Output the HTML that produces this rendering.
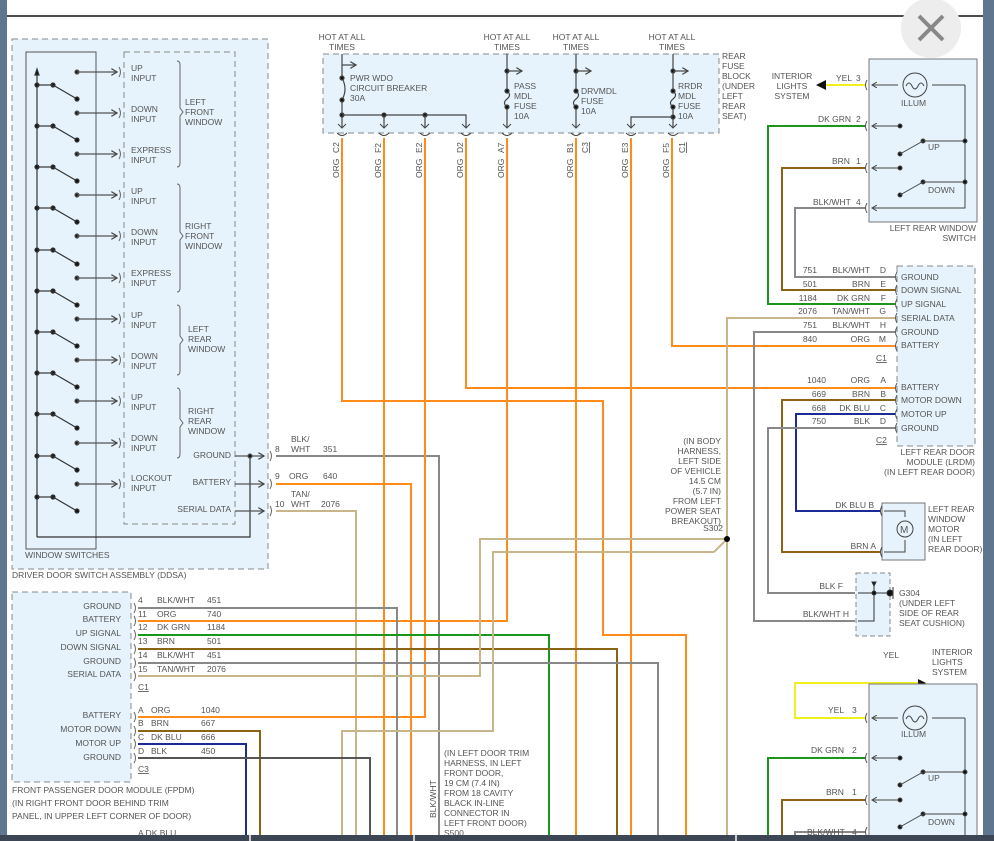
<!DOCTYPE html>
<html><head><meta charset="utf-8"><style>
html,body{margin:0;padding:0;background:#fff;}
svg{display:block;font-family:"Liberation Sans",sans-serif;}
text{font-size:8.5px;fill:#555;}
</style></head><body>
<svg width="994" height="841" viewBox="0 0 994 841" xmlns="http://www.w3.org/2000/svg">
<defs>
<marker id="ar" markerWidth="6" markerHeight="6" refX="5" refY="3" orient="auto"><path d="M0,0 L5,3 L0,6" fill="none" stroke="#444" stroke-width="1"/></marker>
</defs>
<rect width="994" height="841" fill="#fff"/>
<rect x="0" y="0" width="7" height="841" fill="#5f7690"/>
<rect x="983" y="0" width="11" height="841" fill="#5f7690"/>
<line x1="7" y1="16" x2="983" y2="16" stroke="#111" stroke-width="1.5"/>

<!-- DDSA -->
<rect x="12" y="39" width="256" height="530" fill="#e6f3fc" stroke="#888" stroke-dasharray="6,4"/>
<rect x="26" y="52" width="70" height="497" fill="none" stroke="#555"/>
<rect x="124" y="52" width="111" height="472" fill="none" stroke="#888" stroke-dasharray="6,4"/>
<text x="25" y="558">WINDOW SWITCHES</text>
<text x="12" y="578">DRIVER DOOR SWITCH ASSEMBLY (DDSA)</text>
<g stroke="#333" stroke-width="1.2" fill="#111">
<line x1="37" y1="70" x2="37" y2="537"/>
<polyline points="37,537 250,537 250,456" fill="none"/>
<path d="M35,75 L37,69 L39,75Z"/>
</g>
<g stroke="#333" stroke-width="1.2" fill="#111">
<circle cx="37" cy="85" r="2"/><circle cx="53" cy="85" r="2"/><line x1="37" y1="85" x2="53" y2="85"/><line x1="53" y1="85" x2="77" y2="99"/><circle cx="77" cy="99" r="2"/>
<circle cx="37" cy="126" r="2"/><circle cx="53" cy="126" r="2"/><line x1="37" y1="126" x2="53" y2="126"/><line x1="53" y1="126" x2="77" y2="140"/><circle cx="77" cy="140" r="2"/>
<circle cx="37" cy="167" r="2"/><circle cx="53" cy="167" r="2"/><line x1="37" y1="167" x2="53" y2="167"/><line x1="53" y1="167" x2="77" y2="181"/><circle cx="77" cy="181" r="2"/>
<circle cx="37" cy="208" r="2"/><circle cx="53" cy="208" r="2"/><line x1="37" y1="208" x2="53" y2="208"/><line x1="53" y1="208" x2="77" y2="222"/><circle cx="77" cy="222" r="2"/>
<circle cx="37" cy="250" r="2"/><circle cx="53" cy="250" r="2"/><line x1="37" y1="250" x2="53" y2="250"/><line x1="53" y1="250" x2="77" y2="264"/><circle cx="77" cy="264" r="2"/>
<circle cx="37" cy="291" r="2"/><circle cx="53" cy="291" r="2"/><line x1="37" y1="291" x2="53" y2="291"/><line x1="53" y1="291" x2="77" y2="305"/><circle cx="77" cy="305" r="2"/>
<circle cx="37" cy="332" r="2"/><circle cx="53" cy="332" r="2"/><line x1="37" y1="332" x2="53" y2="332"/><line x1="53" y1="332" x2="77" y2="346"/><circle cx="77" cy="346" r="2"/>
<circle cx="37" cy="373" r="2"/><circle cx="53" cy="373" r="2"/><line x1="37" y1="373" x2="53" y2="373"/><line x1="53" y1="373" x2="77" y2="387"/><circle cx="77" cy="387" r="2"/>
<circle cx="37" cy="414" r="2"/><circle cx="53" cy="414" r="2"/><line x1="37" y1="414" x2="53" y2="414"/><line x1="53" y1="414" x2="77" y2="428"/><circle cx="77" cy="428" r="2"/>
<circle cx="37" cy="456" r="2"/><circle cx="53" cy="456" r="2"/><line x1="37" y1="456" x2="53" y2="456"/><line x1="53" y1="456" x2="77" y2="470"/><circle cx="77" cy="470" r="2"/>
<circle cx="37" cy="497" r="2"/><circle cx="53" cy="497" r="2"/><line x1="37" y1="497" x2="53" y2="497"/><line x1="53" y1="497" x2="77" y2="511"/><circle cx="77" cy="511" r="2"/>
</g>
<g stroke="#555" stroke-width="1.2" fill="#111">
<circle cx="77" cy="72" r="2"/><line x1="77" y1="72" x2="117" y2="72" marker-end="url(#ar)"/>
<circle cx="77" cy="113" r="2"/><line x1="77" y1="113" x2="117" y2="113" marker-end="url(#ar)"/>
<circle cx="77" cy="154" r="2"/><line x1="77" y1="154" x2="117" y2="154" marker-end="url(#ar)"/>
<circle cx="77" cy="195" r="2"/><line x1="77" y1="195" x2="117" y2="195" marker-end="url(#ar)"/>
<circle cx="77" cy="236" r="2"/><line x1="77" y1="236" x2="117" y2="236" marker-end="url(#ar)"/>
<circle cx="77" cy="278" r="2"/><line x1="77" y1="278" x2="117" y2="278" marker-end="url(#ar)"/>
<circle cx="77" cy="319" r="2"/><line x1="77" y1="319" x2="117" y2="319" marker-end="url(#ar)"/>
<circle cx="77" cy="360" r="2"/><line x1="77" y1="360" x2="117" y2="360" marker-end="url(#ar)"/>
<circle cx="77" cy="401" r="2"/><line x1="77" y1="401" x2="117" y2="401" marker-end="url(#ar)"/>
<circle cx="77" cy="443" r="2"/><line x1="77" y1="443" x2="117" y2="443" marker-end="url(#ar)"/>
<circle cx="77" cy="484" r="2"/><line x1="77" y1="484" x2="117" y2="484" marker-end="url(#ar)"/>
</g>
<g fill="none" stroke="#666" stroke-width="1">
<path d="M119,67 q3,5 0,10"/><path d="M119,108 q3,5 0,10"/><path d="M119,149 q3,5 0,10"/><path d="M119,190 q3,5 0,10"/><path d="M119,231 q3,5 0,10"/><path d="M119,273 q3,5 0,10"/><path d="M119,314 q3,5 0,10"/><path d="M119,355 q3,5 0,10"/><path d="M119,396 q3,5 0,10"/><path d="M119,438 q3,5 0,10"/><path d="M119,479 q3,5 0,10"/>
<path d="M177,61 q3,0 3,4 L180,108 l3,4 l-3,4 L180,163 q0,4 -3,4"/>
<path d="M177,184 q3,0 3,4 L180,232 l3,4 l-3,4 L180,288 q0,4 -3,4"/>
<path d="M177,305 q3,0 3,4 L180,336 l3,4 l-3,4 L180,371 q0,4 -3,4"/>
<path d="M177,388 q3,0 3,4 L180,419 l3,4 l-3,4 L180,454 q0,4 -3,4"/>
</g>
<g>
<text x="131" y="71">UP</text><text x="131" y="81">INPUT</text>
<text x="131" y="112">DOWN</text><text x="131" y="122">INPUT</text>
<text x="131" y="153">EXPRESS</text><text x="131" y="163">INPUT</text>
<text x="131" y="194">UP</text><text x="131" y="204">INPUT</text>
<text x="131" y="235">DOWN</text><text x="131" y="245">INPUT</text>
<text x="131" y="276">EXPRESS</text><text x="131" y="286">INPUT</text>
<text x="131" y="318">UP</text><text x="131" y="328">INPUT</text>
<text x="131" y="359">DOWN</text><text x="131" y="369">INPUT</text>
<text x="131" y="400">UP</text><text x="131" y="410">INPUT</text>
<text x="131" y="441">DOWN</text><text x="131" y="451">INPUT</text>
<text x="131" y="481">LOCKOUT</text><text x="131" y="491">INPUT</text>
<text x="185" y="105">LEFT</text><text x="185" y="115">FRONT</text><text x="185" y="125">WINDOW</text>
<text x="185" y="229">RIGHT</text><text x="185" y="239">FRONT</text><text x="185" y="249">WINDOW</text>
<text x="188" y="332">LEFT</text><text x="188" y="342">REAR</text><text x="188" y="352">WINDOW</text>
<text x="188" y="414">RIGHT</text><text x="188" y="424">REAR</text><text x="188" y="434">WINDOW</text>
<text x="231" y="458" text-anchor="end">GROUND</text>
<text x="231" y="485" text-anchor="end">BATTERY</text>
<text x="231" y="512" text-anchor="end">SERIAL DATA</text>
</g>
<g stroke="#555" stroke-width="1.2" fill="#111">
<line x1="235" y1="456" x2="264" y2="456" marker-end="url(#ar)"/><circle cx="250" cy="456" r="2"/>
<line x1="235" y1="484" x2="264" y2="484" marker-end="url(#ar)"/>
<line x1="235" y1="511" x2="264" y2="511" marker-end="url(#ar)"/>
</g>
<g fill="none" stroke="#666"><path d="M270,451 q3,5 0,10"/><path d="M270,479 q3,5 0,10"/><path d="M270,506 q3,5 0,10"/></g>
<text x="275" y="452">8</text><text x="291" y="442">BLK/</text><text x="291" y="452">WHT</text><text x="323" y="452">351</text>
<text x="275" y="479">9</text><text x="289" y="479">ORG</text><text x="323" y="479">640</text>
<text x="275" y="507">10</text><text x="291" y="497">TAN/</text><text x="291" y="507">WHT</text><text x="321" y="507">2076</text>

<!-- FPDM -->
<rect x="12" y="592" width="119" height="190" fill="#e6f3fc" stroke="#888" stroke-dasharray="6,4"/>
<g text-anchor="end">
<text x="121" y="609">GROUND</text><text x="121" y="622">BATTERY</text><text x="121" y="636">UP SIGNAL</text><text x="121" y="650">DOWN SIGNAL</text><text x="121" y="664">GROUND</text><text x="121" y="677">SERIAL DATA</text>
<text x="121" y="718">BATTERY</text><text x="121" y="732">MOTOR DOWN</text><text x="121" y="746">MOTOR UP</text><text x="121" y="760">GROUND</text>
</g>
<text x="12" y="793">FRONT PASSENGER DOOR MODULE (FPDM)</text>
<text x="12" y="806">(IN RIGHT FRONT DOOR BEHIND TRIM</text>
<text x="12" y="819">PANEL, IN UPPER LEFT CORNER OF DOOR)</text>
<g fill="none" stroke="#666"><path d="M134,603 q3,5 0,10"/><path d="M134,616 q3,5 0,10"/><path d="M134,630 q3,5 0,10"/><path d="M134,644 q3,5 0,10"/><path d="M134,658 q3,5 0,10"/><path d="M134,671 q3,5 0,10"/><path d="M134,712 q3,5 0,10"/><path d="M134,726 q3,5 0,10"/><path d="M134,739 q3,5 0,10"/><path d="M134,753 q3,5 0,10"/></g>
<text x="138" y="603">4</text><text x="157" y="603">BLK/WHT</text><text x="207" y="603">451</text>
<text x="138" y="617">11</text><text x="157" y="617">ORG</text><text x="207" y="617">740</text>
<text x="138" y="630">12</text><text x="157" y="630">DK GRN</text><text x="207" y="630">1184</text>
<text x="138" y="644">13</text><text x="157" y="644">BRN</text><text x="207" y="644">501</text>
<text x="138" y="658">14</text><text x="157" y="658">BLK/WHT</text><text x="207" y="658">451</text>
<text x="138" y="672">15</text><text x="157" y="672">TAN/WHT</text><text x="207" y="672">2076</text>
<text x="138" y="690" text-decoration="underline">C1</text>
<text x="138" y="713">A</text><text x="151" y="713">ORG</text><text x="201" y="713">1040</text>
<text x="138" y="726">B</text><text x="151" y="726">BRN</text><text x="201" y="726">667</text>
<text x="138" y="740">C</text><text x="151" y="740">DK BLU</text><text x="201" y="740">666</text>
<text x="138" y="754">D</text><text x="151" y="754">BLK</text><text x="201" y="754">450</text>
<text x="138" y="772" text-decoration="underline">C3</text>
<text x="138" y="836">A  DK BLU</text>

<!-- Wires -->
<g fill="none" stroke-width="2">
<polyline points="276,456 439,456 439,841" stroke="#888"/>
<polyline points="276,484 411,484 411,841" stroke="#ff8c1a"/>
<polyline points="276,511 356,511 356,841" stroke="#c8b68a"/>
<polyline points="342,138 342,401 603,401 603,635 686,635 686,841" stroke="#ff8c1a"/>
<line x1="384" y1="138" x2="384" y2="841" stroke="#ff8c1a"/>
<polyline points="425,138 425,717 138,717" stroke="#ff8c1a"/>
<polyline points="466,138 466,388 895,388" stroke="#ff8c1a"/>
<polyline points="507,138 507,621 138,621" stroke="#ff8c1a"/>
<line x1="576" y1="138" x2="576" y2="841" stroke="#ff8c1a"/>
<line x1="631" y1="138" x2="631" y2="841" stroke="#ff8c1a"/>
<polyline points="672,138 672,346 895,346" stroke="#ff8c1a"/>
<polyline points="138,608 397,608 397,841" stroke="#888"/>
<polyline points="138,635 549,635 549,841" stroke="#1a961a"/>
<polyline points="138,649 617,649 617,841" stroke="#8a6414"/>
<polyline points="138,663 658,663 658,841" stroke="#888"/>
<polyline points="138,676 480,676 480,539 727,539" stroke="#c8b68a"/>
<polyline points="714,552 493,552 493,731 342,731 342,841" stroke="#c8b68a"/>
<line x1="714" y1="552" x2="727" y2="539" stroke="#c8b68a"/>
<polyline points="895,318 727,318 727,841" stroke="#c8b68a"/>
<polyline points="138,731 260,731 260,841" stroke="#8a6414"/>
<polyline points="138,744 246,744 246,841" stroke="#1a2a96"/>
<polyline points="138,758 370,758 370,841" stroke="#555"/>
<line x1="826" y1="85" x2="866" y2="85" stroke="#f0f020"/>
<polyline points="866,126 768,126 768,304 895,304" stroke="#1a961a"/>
<polyline points="866,168 782,168 782,290 895,290" stroke="#8a6414"/>
<polyline points="866,208 795,208 795,277 895,277" stroke="#888"/>
<polyline points="895,332 754,332 754,621 855,621" stroke="#888"/>
<polyline points="895,400 782,400 782,552 880,552" stroke="#8a6414"/>
<polyline points="895,414 796,414 796,511 880,511" stroke="#1a2a96"/>
<polyline points="895,428 768,428 768,593 855,593" stroke="#888"/>
<polyline points="866,718 795,718 795,683 918,683" stroke="#f0f020"/>
<polyline points="866,758 768,758 768,841" stroke="#1a961a"/>
<polyline points="866,800 782,800 782,841" stroke="#8a6414"/>
<polyline points="866,832 795,832 795,841" stroke="#888"/>
</g>
<circle cx="727" cy="539" r="3" fill="#000"/>
<text x="723" y="531" text-anchor="end">S302</text>
<g text-anchor="end">
<text x="721" y="444">(IN BODY</text><text x="721" y="454">HARNESS,</text><text x="721" y="464">LEFT SIDE</text><text x="721" y="474">OF VEHICLE</text><text x="721" y="484">14.5 CM</text><text x="721" y="494">(5.7 IN)</text><text x="721" y="504">FROM LEFT</text><text x="721" y="514">POWER SEAT</text><text x="721" y="524">BREAKOUT)</text>
</g>
<g><text x="444" y="756">(IN LEFT DOOR TRIM</text><text x="444" y="766">HARNESS, IN LEFT</text><text x="444" y="776">FRONT DOOR,</text><text x="444" y="786">19 CM (7.4 IN)</text><text x="444" y="796">FROM 18 CAVITY</text><text x="444" y="806">BLACK IN-LINE</text><text x="444" y="816">CONNECTOR IN</text><text x="444" y="826">LEFT FRONT DOOR)</text><text x="444" y="836">S500</text></g>
<text transform="translate(436,818) rotate(-90)">BLK/WHT</text>

<!-- Fuse block -->
<rect x="323" y="54" width="396" height="79" fill="#e6f3fc" stroke="#888" stroke-dasharray="6,4"/>
<g text-anchor="middle">
<text x="342" y="40">HOT AT ALL</text><text x="342" y="50">TIMES</text>
<text x="507" y="40">HOT AT ALL</text><text x="507" y="50">TIMES</text>
<text x="576" y="40">HOT AT ALL</text><text x="576" y="50">TIMES</text>
<text x="672" y="40">HOT AT ALL</text><text x="672" y="50">TIMES</text>
</g>
<g><text x="722" y="59">REAR</text><text x="722" y="69">FUSE</text><text x="722" y="79">BLOCK</text><text x="722" y="89">(UNDER</text><text x="722" y="99">LEFT</text><text x="722" y="109">REAR</text><text x="722" y="119">SEAT)</text></g>
<g stroke="#444" stroke-width="1.2" fill="#111">
<line x1="342" y1="54" x2="342" y2="78"/><line x1="342" y1="100" x2="342" y2="128"/>
<path d="M342,78 q6,11 0,22" fill="none"/>
<circle cx="342" cy="78" r="2"/><circle cx="342" cy="100" r="2"/><circle cx="342" cy="115" r="2"/>
<line x1="342" y1="65" x2="356" y2="65" marker-end="url(#ar)"/>
<polyline points="342,115 466,115 466,128" fill="none"/>
<circle cx="384" cy="115" r="2"/><circle cx="425" cy="115" r="2"/>
<line x1="384" y1="115" x2="384" y2="128"/><line x1="425" y1="115" x2="425" y2="128"/>
<line x1="507" y1="54" x2="507" y2="91"/><line x1="507" y1="107" x2="507" y2="128"/>
<path d="M507,91 q5,4 0,8 q-5,4 0,8" fill="none"/><circle cx="507" cy="91" r="2"/><circle cx="507" cy="107" r="2"/><circle cx="507" cy="71" r="2"/>
<line x1="507" y1="71" x2="522" y2="71" marker-end="url(#ar)"/>
<line x1="576" y1="54" x2="576" y2="91"/><line x1="576" y1="107" x2="576" y2="128"/>
<path d="M576,91 q5,4 0,8 q-5,4 0,8" fill="none"/><circle cx="576" cy="91" r="2"/><circle cx="576" cy="107" r="2"/><circle cx="576" cy="71" r="2"/>
<line x1="576" y1="71" x2="591" y2="71" marker-end="url(#ar)"/>
<line x1="673" y1="54" x2="673" y2="91"/><line x1="673" y1="107" x2="673" y2="128"/>
<path d="M673,91 q5,4 0,8 q-5,4 0,8" fill="none"/><circle cx="673" cy="91" r="2"/><circle cx="673" cy="107" r="2"/><circle cx="673" cy="71" r="2"/><circle cx="673" cy="117" r="2"/>
<line x1="673" y1="71" x2="688" y2="71" marker-end="url(#ar)"/>
<polyline points="673,117 631,117 631,128" fill="none"/>
</g>
<g fill="none" stroke="#444" stroke-width="1">
<path d="M338,124 l4,4 l4,-4 M380,124 l4,4 l4,-4 M421,124 l4,4 l4,-4 M462,124 l4,4 l4,-4 M503,124 l4,4 l4,-4 M572,124 l4,4 l4,-4 M627,124 l4,4 l4,-4 M669,124 l4,4 l4,-4"/>
<path d="M337,133 q5,5 10,0 M379,133 q5,5 10,0 M420,133 q5,5 10,0 M461,133 q5,5 10,0 M502,133 q5,5 10,0 M571,133 q5,5 10,0 M626,133 q5,5 10,0 M668,133 q5,5 10,0"/>
</g>
<text x="350" y="81">PWR WDO</text><text x="350" y="91">CIRCUIT BREAKER</text><text x="350" y="101">30A</text>
<text x="514" y="89">PASS</text><text x="514" y="99">MDL</text><text x="514" y="109">FUSE</text><text x="514" y="119">10A</text>
<text x="581" y="94">DRVMDL</text><text x="581" y="104">FUSE</text><text x="581" y="114">10A</text>
<text x="678" y="89">RRDR</text><text x="678" y="99">MDL</text><text x="678" y="109">FUSE</text><text x="678" y="119">10A</text>
<g>
<text transform="translate(339,153) rotate(-90)">C2</text><text transform="translate(339,178) rotate(-90)">ORG</text>
<text transform="translate(381,153) rotate(-90)">F2</text><text transform="translate(381,178) rotate(-90)">ORG</text>
<text transform="translate(422,153) rotate(-90)">E2</text><text transform="translate(422,178) rotate(-90)">ORG</text>
<text transform="translate(463,153) rotate(-90)">D2</text><text transform="translate(463,178) rotate(-90)">ORG</text>
<text transform="translate(504,153) rotate(-90)">A7</text><text transform="translate(504,178) rotate(-90)">ORG</text>
<text transform="translate(573,153) rotate(-90)">B1</text><text transform="translate(573,178) rotate(-90)">ORG</text>
<text transform="translate(588,153) rotate(-90)" text-decoration="underline">C3</text>
<text transform="translate(628,153) rotate(-90)">E3</text><text transform="translate(628,178) rotate(-90)">ORG</text>
<text transform="translate(669,153) rotate(-90)">F5</text><text transform="translate(669,178) rotate(-90)">ORG</text>
<text transform="translate(685,153) rotate(-90)" text-decoration="underline">C1</text>
</g>

<!-- close button -->
<circle cx="931" cy="28" r="30" fill="#ededed"/>
<path d="M919,16 L943,40 M943,16 L919,40" stroke="#888" stroke-width="4"/>

<!-- Left rear window switch -->
<rect x="869" y="59" width="108" height="163" fill="#e6f3fc" stroke="#777"/>
<g fill="none" stroke="#555" stroke-width="1">
<path d="M867,80 q-3,5 0,10 M867,121 q-3,5 0,10 M867,163 q-3,5 0,10 M867,203 q-3,5 0,10"/>
</g>
<g stroke="#444" stroke-width="1" fill="#111">
<line x1="898" y1="85" x2="872" y2="85" marker-end="url(#ar)"/>
<line x1="932" y1="85" x2="965" y2="85"/><polyline points="965,85 965,208 872,208" fill="none" marker-end="url(#ar)"/>
<circle cx="915" cy="85" r="12" fill="none"/>
<path d="M906,86 q3,-6 6,0 q3,6 6,0 q3,-6 6,0" fill="none"/>
<line x1="900" y1="126" x2="872" y2="126" marker-end="url(#ar)"/><circle cx="900" cy="126" r="2"/>
<line x1="900" y1="168" x2="872" y2="168" marker-end="url(#ar)"/><circle cx="900" cy="168" r="2"/>
<circle cx="900" cy="154" r="2"/><circle cx="923" cy="141" r="2"/><line x1="900" y1="154" x2="923" y2="141"/><line x1="923" y1="141" x2="965" y2="141"/><circle cx="965" cy="141" r="2"/>
<circle cx="900" cy="195" r="2"/><circle cx="923" cy="182" r="2"/><line x1="900" y1="195" x2="923" y2="182"/><line x1="923" y1="182" x2="965" y2="182"/><circle cx="965" cy="182" r="2"/>
</g>
<path d="M816,85 L826,80 L826,90Z" fill="#111"/>
<text x="901" y="106">ILLUM</text><text x="928" y="150">UP</text><text x="928" y="193">DOWN</text>
<text x="976" y="231" text-anchor="end">LEFT REAR WINDOW</text><text x="976" y="241" text-anchor="end">SWITCH</text>
<g text-anchor="middle"><text x="792" y="79">INTERIOR</text><text x="792" y="89">LIGHTS</text><text x="792" y="99">SYSTEM</text></g>
<text x="836" y="81">YEL</text><text x="856" y="81">3</text>
<text x="818" y="122">DK GRN</text><text x="856" y="122">2</text>
<text x="832" y="164">BRN</text><text x="856" y="164">1</text>
<text x="813" y="205">BLK/WHT</text><text x="856" y="205">4</text>

<!-- LRDM -->
<rect x="897" y="266" width="78" height="180" fill="#e6f3fc" stroke="#888" stroke-dasharray="6,4"/>
<g fill="none" stroke="#555"><path d="M897,272 q-3,5 0,10 M897,285 q-3,5 0,10 M897,299 q-3,5 0,10 M897,313 q-3,5 0,10 M897,327 q-3,5 0,10 M897,341 q-3,5 0,10 M897,383 q-3,5 0,10 M897,395 q-3,5 0,10 M897,409 q-3,5 0,10 M897,423 q-3,5 0,10"/></g>
<text x="901" y="280">GROUND</text><text x="901" y="293">DOWN SIGNAL</text><text x="901" y="307">UP SIGNAL</text><text x="901" y="321">SERIAL DATA</text><text x="901" y="335">GROUND</text><text x="901" y="348">BATTERY</text>
<text x="901" y="390">BATTERY</text><text x="901" y="403">MOTOR DOWN</text><text x="901" y="417">MOTOR UP</text><text x="901" y="431">GROUND</text>
<text x="876" y="361" text-decoration="underline">C1</text><text x="876" y="443" text-decoration="underline">C2</text>
<g text-anchor="end">
<text x="817" y="273">751</text><text x="870" y="273">BLK/WHT</text><text x="886" y="273">D</text>
<text x="817" y="287">501</text><text x="870" y="287">BRN</text><text x="886" y="287">E</text>
<text x="817" y="301">1184</text><text x="870" y="301">DK GRN</text><text x="886" y="301">F</text>
<text x="817" y="314">2076</text><text x="870" y="314">TAN/WHT</text><text x="886" y="314">G</text>
<text x="817" y="328">751</text><text x="870" y="328">BLK/WHT</text><text x="886" y="328">H</text>
<text x="817" y="342">840</text><text x="870" y="342">ORG</text><text x="886" y="342">M</text>
<text x="826" y="383">1040</text><text x="870" y="383">ORG</text><text x="886" y="383">A</text>
<text x="826" y="397">669</text><text x="870" y="397">BRN</text><text x="886" y="397">B</text>
<text x="826" y="411">668</text><text x="870" y="411">DK BLU</text><text x="886" y="411">C</text>
<text x="826" y="424">750</text><text x="870" y="424">BLK</text><text x="886" y="424">D</text>
<text x="975" y="455">LEFT REAR DOOR</text><text x="975" y="465">MODULE (LRDM)</text><text x="975" y="475">(IN LEFT REAR DOOR)</text>
<text x="874" y="508">DK BLU  B</text><text x="876" y="549">BRN   A</text>
<text x="843" y="589">BLK   F</text><text x="849" y="617">BLK/WHT   H</text>
</g>
<rect x="882" y="503" width="43" height="57" fill="#e6f3fc" stroke="#777"/>
<g stroke="#444" fill="none"><polyline points="884,511 905,511 905,517"/><polyline points="884,552 905,552 905,540"/><circle cx="905" cy="529" r="8"/><path d="M882,506 q-3,5 0,10 M882,547 q-3,5 0,10"/></g>
<text x="900" y="533" style="font-size:10px">M</text>
<text x="928" y="512">LEFT REAR</text><text x="928" y="522">WINDOW</text><text x="928" y="532">MOTOR</text><text x="928" y="542">(IN LEFT</text><text x="928" y="552">REAR DOOR)</text>
<rect x="856" y="573" width="34" height="63" fill="#e6f3fc" stroke="#888" stroke-dasharray="5,3"/>
<g stroke="#333" fill="#111"><polyline points="858,593 890,593" fill="none"/><polyline points="874,582 874,621 858,621" fill="none"/><circle cx="874" cy="593" r="2"/><circle cx="890" cy="593" r="3"/><line x1="893" y1="587" x2="893" y2="599"/><path d="M872,582 L876,582 L874,586Z"/></g>
<text x="899" y="596">G304</text><text x="899" y="606">(UNDER LEFT</text><text x="899" y="616">SIDE OF REAR</text><text x="899" y="626">SEAT CUSHION)</text>

<!-- bottom switch -->
<path d="M918,679 L926,683 L918,687Z" fill="#111"/>
<text x="932" y="655">INTERIOR</text><text x="932" y="665">LIGHTS</text><text x="932" y="675">SYSTEM</text>
<text x="883" y="658">YEL</text>
<rect x="869" y="684" width="108" height="160" fill="#e6f3fc" stroke="#777"/>
<g fill="none" stroke="#555"><path d="M867,713 q-3,5 0,10 M867,753 q-3,5 0,10 M867,795 q-3,5 0,10 M867,827 q-3,5 0,10"/></g>
<g stroke="#444" stroke-width="1" fill="#111">
<line x1="898" y1="718" x2="872" y2="718" marker-end="url(#ar)"/>
<line x1="932" y1="718" x2="965" y2="718"/><line x1="965" y1="718" x2="965" y2="841"/>
<circle cx="915" cy="718" r="12" fill="none"/>
<path d="M906,719 q3,-6 6,0 q3,6 6,0 q3,-6 6,0" fill="none"/>
<line x1="900" y1="758" x2="872" y2="758" marker-end="url(#ar)"/><circle cx="900" cy="758" r="2"/>
<line x1="900" y1="800" x2="872" y2="800" marker-end="url(#ar)"/><circle cx="900" cy="800" r="2"/>
<circle cx="900" cy="785" r="2"/><circle cx="923" cy="772" r="2"/><line x1="900" y1="785" x2="923" y2="772"/><line x1="923" y1="772" x2="965" y2="772"/><circle cx="965" cy="772" r="2"/>
<circle cx="900" cy="827" r="2"/><circle cx="923" cy="814" r="2"/><line x1="900" y1="827" x2="923" y2="814"/><line x1="923" y1="814" x2="965" y2="814"/><circle cx="965" cy="814" r="2"/>
</g>
<text x="901" y="737">ILLUM</text><text x="928" y="781">UP</text><text x="928" y="825">DOWN</text>
<text x="828" y="713">YEL</text><text x="852" y="713">3</text>
<text x="811" y="753">DK GRN</text><text x="852" y="753">2</text>
<text x="826" y="795">BRN</text><text x="852" y="795">1</text>
<text x="807" y="835">BLK/WHT</text><text x="852" y="835">4</text>

<rect x="0" y="835" width="994" height="6" fill="#3c4654"/>
<rect x="249" y="835" width="2" height="6" fill="#ccc"/><rect x="413" y="835" width="2" height="6" fill="#ccc"/><rect x="735" y="835" width="2" height="6" fill="#ccc"/>
</svg>
</body></html>
